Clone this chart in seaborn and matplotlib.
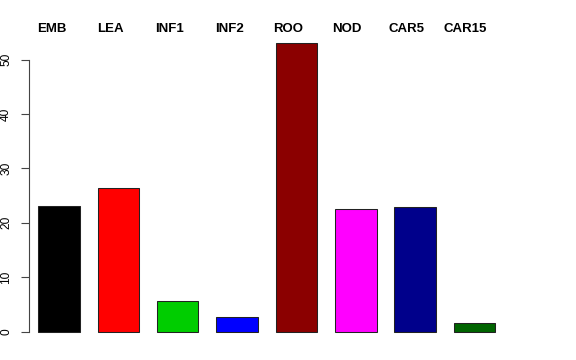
import matplotlib
matplotlib.use('Agg')
import matplotlib.pyplot as plt
import seaborn as sns
import pandas as pd

# values
categories = ['EMB', 'LEA', 'INF1', 'INF2', 'ROO', 'NOD', 'CAR5', 'CAR15']
values = [23.1, 26.4, 5.6, 2.6, 53.1, 22.6, 22.9, 1.6]
colors = ['#000000', '#FF0000', '#00CD00', '#0000FF', '#8B0000', '#FF00FF', '#00008B', '#006400']
yticks = [0, 10, 20, 30, 40, 50]

sns.set_style('white')
plt.rcParams['font.family'] = ['Liberation Sans', 'DejaVu Sans']
plt.rcParams['text.color'] = 'black'
plt.rcParams['ytick.labelcolor'] = 'black'

W, H = 576, 360
fig = plt.figure(figsize=(W / 100, H / 100), dpi=100)
# axes in pixel terms: left edge = y axis line
ax = fig.add_axes([29 / W, 1 - 340 / H, (560 - 29) / W, (340 - 20) / H])

df = pd.DataFrame({'cat': categories, 'val': values})
sns.barplot(data=df, x='cat', y='val', hue='cat', palette=colors, legend=False,
            width=0.7, edgecolor='#222222', linewidth=0.75, saturation=1, ax=ax)

step = 59.35
ax.set_xlim(-(59 - 29) / step, (560 - 59) / step)
ppu = (331.5 - 59.5) / 50
ax.set_ylim(-(340 - 331.5) / ppu, (331.5 - 20) / ppu)

for s in ['top', 'right', 'bottom']:
    ax.spines[s].set_visible(False)
ax.spines['left'].set_bounds(0, 50)
ax.spines['left'].set_color('#444444')
ax.spines['left'].set_linewidth(0.8)
ax.set_yticks(yticks)
ax.set_yticklabels([str(t) for t in yticks], rotation=90, va='center', fontsize=8.6, color='black')
ax.tick_params(axis='y', length=5.8, width=0.8, color='#444444', pad=6.3, left=True)
ax.set_xticks([])
ax.set_xlabel('')
ax.set_ylabel('')

# group names along the top
for i, c in enumerate(categories):
    fig.text((51.7 + 59.1 * i) / W, 1 - 29.2 / H, c, ha='center', va='center',
             fontsize=9.5, fontweight='bold', color='black')

fig.savefig('out.png', dpi=100)
